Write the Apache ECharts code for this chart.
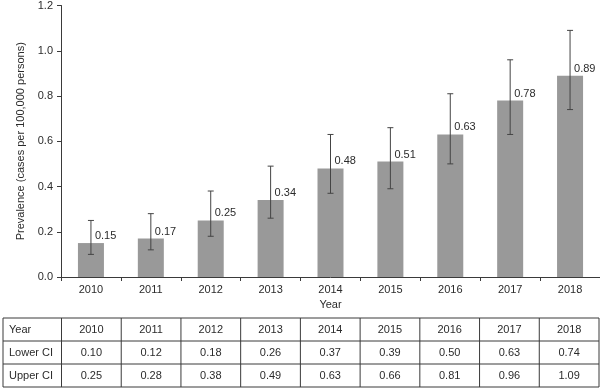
<!DOCTYPE html>
<html>
<head>
<meta charset="utf-8">
<script src="https://cdn.jsdelivr.net/npm/echarts@6/dist/echarts.min.js"></script>
<style>
html,body{margin:0;padding:0;background:#fff;}
#main{width:600px;height:388px;}
</style>
</head>
<body>
<div id="main"></div>
<script>
var years = ['2010','2011','2012','2013','2014','2015','2016','2017','2018'];
var prevalence = [0.15, 0.17, 0.25, 0.34, 0.48, 0.51, 0.63, 0.78, 0.89];
var lowerCI = [0.10, 0.12, 0.18, 0.26, 0.37, 0.39, 0.50, 0.63, 0.74];
var upperCI = [0.25, 0.28, 0.38, 0.49, 0.63, 0.66, 0.81, 0.96, 1.09];
var rowHeaders = ['Year', 'Lower CI', 'Upper CI'];

var FONT = '"Liberation Sans", Arial, Helvetica, sans-serif';
var TXT = '#2b2b2b';
var LINE = '#3a3a3a';

var chart = echarts.init(document.getElementById('main'), null, {renderer: 'canvas'});

// table built from arrays
var tableLeft = 3, firstColW = 58.5, tableRight = 599;
var tableTop = 318, rowH = 23;
var colW = (tableRight - (tableLeft + firstColW)) / years.length;
var rows = [years, lowerCI.map(function(v){return v.toFixed(2);}), upperCI.map(function(v){return v.toFixed(2);})];
var graphics = [];
for (var r = 0; r <= rows.length; r++) {
  graphics.push({type:'line', shape:{x1:tableLeft, y1:tableTop + r*rowH, x2:tableRight, y2:tableTop + r*rowH}, style:{stroke:LINE, lineWidth:1}, silent:true});
}
var colXs = [tableLeft, tableLeft + firstColW];
for (var c = 1; c <= years.length; c++) colXs.push(tableLeft + firstColW + c*colW);
colXs.forEach(function(x){
  graphics.push({type:'line', shape:{x1:x, y1:tableTop, x2:x, y2:tableTop + rows.length*rowH}, style:{stroke:LINE, lineWidth:1}, silent:true});
});
rows.forEach(function(row, ri){
  var cy = tableTop + ri*rowH + rowH/2;
  graphics.push({type:'text', x: tableLeft + 6, y: cy, style:{text: rowHeaders[ri], fill:TXT, font:'11px ' + FONT, textAlign:'left', textVerticalAlign:'middle'}});
  row.forEach(function(v, ci){
    graphics.push({type:'text', x: tableLeft + firstColW + (ci+0.5)*colW, y: cy, style:{text: v, fill:TXT, font:'11px ' + FONT, textAlign:'center', textVerticalAlign:'middle'}});
  });
});

var option = {
  animation: false,
  backgroundColor: '#fff',
  textStyle: {fontFamily: FONT},
  grid: {left: 61, right: 0, top: 5, bottom: 111, containLabel: false},
  xAxis: {
    type: 'category',
    data: years,
    name: 'Year',
    nameLocation: 'middle',
    nameGap: 22,
    nameTextStyle: {color: TXT, fontSize: 11, fontFamily: FONT, verticalAlign: 'top'},
    axisLine: {lineStyle: {color: LINE, width: 1}},
    axisTick: {show: true, alignWithLabel: false, inside: false, length: 4, lineStyle: {color: LINE}},
    axisLabel: {color: TXT, fontSize: 11, fontFamily: FONT, margin: 7}
  },
  yAxis: {
    type: 'value',
    min: 0, max: 1.2, interval: 0.2,
    name: 'Prevalence (cases per 100,000 persons)',
    nameLocation: 'middle',
    nameGap: 29,
    nameTextStyle: {color: TXT, fontSize: 11, fontFamily: FONT},
    axisLine: {show: true, lineStyle: {color: LINE, width: 1}},
    axisTick: {show: true, length: 4, lineStyle: {color: LINE}},
    splitLine: {show: false},
    axisLabel: {color: TXT, fontSize: 11, fontFamily: FONT, margin: 8, formatter: function(v){return v.toFixed(1);}}
  },
  series: [
    {
      type: 'bar',
      data: prevalence,
      barWidth: 26,
      itemStyle: {color: '#999999'},
      label: {
        show: true,
        position: [17, -7],
        align: 'left',
        verticalAlign: 'middle',
        color: TXT,
        fontSize: 11,
        fontFamily: FONT,
        formatter: function(p){return p.value.toFixed(2);}
      },
      z: 2
    },
    {
      type: 'custom',
      data: years.map(function(y, i){return [i, lowerCI[i], upperCI[i]];}),
      encode: {x: 0, y: [1, 2]},
      z: 3,
      renderItem: function(params, api){
        var i = api.value(0);
        var lo = api.coord([i, api.value(1)]);
        var hi = api.coord([i, api.value(2)]);
        var hw = 3;
        var st = {stroke: '#444', lineWidth: 1};
        return {type: 'group', children: [
          {type: 'line', shape: {x1: hi[0], y1: hi[1], x2: lo[0], y2: lo[1]}, style: st},
          {type: 'line', shape: {x1: hi[0]-hw, y1: hi[1], x2: hi[0]+hw, y2: hi[1]}, style: st},
          {type: 'line', shape: {x1: lo[0]-hw, y1: lo[1], x2: lo[0]+hw, y2: lo[1]}, style: st}
        ]};
      }
    }
  ],
  graphic: graphics
};
chart.setOption(option);
</script>
</body>
</html>
